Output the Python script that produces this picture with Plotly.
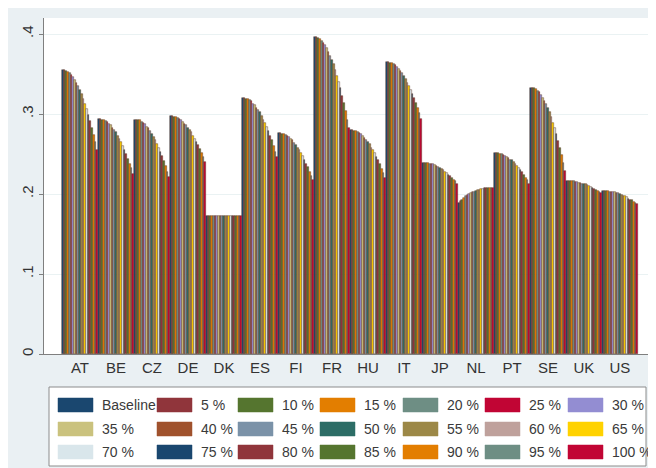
import plotly.graph_objects as go

countries = ["AT", "BE", "CZ", "DE", "DK", "ES", "FI", "FR",
             "HU", "IT", "JP", "NL", "PT", "SE", "UK", "US"]

series_names = ["Baseline", "5 %", "10 %", "15 %", "20 %", "25 %", "30 %",
                "35 %", "40 %", "45 %", "50 %", "55 %", "60 %", "65 %",
                "70 %", "75 %", "80 %", "85 %", "90 %", "95 %", "100 %"]

# Stata s2color palette
colors = ["#1a476f", "#90353b", "#55752f", "#e37e00", "#6e8e84", "#c10534", "#938dd2",
          "#cac27e", "#a0522d", "#7b92a8", "#2d6d66", "#9c8847", "#bfa19c", "#ffd200",
          "#d9e6eb", "#1a476f", "#90353b", "#55752f", "#e37e00", "#6e8e84", "#c10534"]

# one list per country: Baseline, 5 %, ..., 100 %
at = [.355, .355, .354, .353, .351, .349, .346, .343, .339, .335, .330,
      .325, .319, .313, .306, .299, .291, .283, .274, .265, .255]
be = [.294, .294, .293, .293, .291, .290, .288, .286, .283, .280, .277,
      .273, .269, .265, .260, .255, .250, .244, .238, .232, .225]
cz = [.293, .293, .292, .292, .290, .289, .287, .284, .282, .279, .275,
      .271, .267, .263, .258, .253, .247, .241, .235, .228, .221]
de = [.297, .297, .296, .296, .295, .294, .292, .290, .288, .286, .283,
      .280, .277, .273, .269, .265, .261, .256, .251, .246, .240]
dk = [.172, .172, .172, .172, .172, .172, .172, .172, .172, .172, .172,
      .172, .172, .172, .172, .172, .172, .172, .172, .172, .172]
es = [.320, .320, .319, .319, .317, .316, .313, .311, .308, .305, .302,
      .298, .293, .289, .284, .279, .273, .267, .260, .253, .246]
fi = [.276, .276, .275, .275, .274, .272, .271, .269, .267, .264, .261,
      .258, .255, .251, .247, .243, .238, .234, .228, .223, .217]
fr = [.396, .396, .395, .394, .391, .389, .386, .382, .378, .373, .368,
      .362, .355, .348, .340, .332, .323, .314, .304, .293, .282]
hu = [.280, .280, .279, .279, .278, .276, .275, .273, .270, .268, .265,
      .262, .258, .255, .251, .246, .242, .237, .231, .226, .220]
it = [.365, .365, .364, .364, .362, .361, .359, .356, .354, .351, .347,
      .344, .339, .335, .330, .325, .320, .314, .308, .301, .294]
jp = [.239, .239, .239, .239, .238, .237, .237, .236, .235, .234, .233,
      .231, .230, .228, .226, .224, .222, .220, .218, .216, .213]
nl = [.189, .191, .193, .195, .197, .199, .200, .201, .202, .203, .204,
      .205, .205, .206, .206, .207, .207, .207, .208, .208, .208]
pt = [.251, .251, .251, .250, .250, .249, .248, .246, .245, .243, .242,
      .240, .237, .235, .232, .230, .227, .224, .220, .217, .213]
se = [.333, .333, .332, .331, .329, .327, .324, .320, .316, .312, .307,
      .302, .296, .289, .282, .275, .266, .258, .249, .239, .229]
uk = [.216, .216, .216, .216, .216, .215, .215, .214, .214, .213, .212,
      .212, .211, .210, .209, .208, .206, .205, .204, .203, .201]
us = [.204, .204, .204, .204, .203, .203, .202, .202, .201, .201, .200,
      .199, .198, .197, .196, .194, .193, .192, .190, .189, .187]

by_country = [at, be, cz, de, dk, es, fi, fr, hu, it, jp, nl, pt, se, uk, us]

# the page body adds an 8px margin, so the figure is 8px smaller than the window
OFF = 8
W, H = 656 - OFF, 468 - OFF
L, R, T, B = 36, 4, 10, 114
PW, PH = W - L - R, H - T - B


def px(x):
    # window pixel -> paper coordinate
    return (x - OFF - L) / PW


def py(y):
    return (H - B - (y - OFF)) / PH


fig = go.Figure()
for k, name in enumerate(series_names):
    fig.add_trace(go.Bar(
        x=countries, y=[c[k] for c in by_country],
        name=name, marker_color=colors[k],
        marker_line=dict(color="rgba(95,55,35,0.75)", width=0.6),
        showlegend=False,
    ))

# hand-drawn Stata style legend (wide swatches)
shapes = [dict(type="rect", xref="paper", yref="paper",
               x0=px(49), x1=px(646), y0=py(387), y1=py(466),
               fillcolor="white", line=dict(color="#8c8c8c", width=1))]
annotations = []
col_x = [58, 157, 238, 320, 403, 485, 568]
row_y = [405, 429, 452]
for k, name in enumerate(series_names):
    r, c = divmod(k, 7)
    x0, yc = col_x[c], row_y[r]
    shapes.append(dict(type="rect", xref="paper", yref="paper",
                       x0=px(x0), x1=px(x0 + 35), y0=py(yc + 7), y1=py(yc - 7),
                       fillcolor=colors[k], line=dict(color=colors[k], width=0.5)))
    annotations.append(dict(xref="paper", yref="paper", x=px(x0 + 42), y=py(yc),
                            text=name, showarrow=False, xanchor="left", yanchor="middle",
                            font=dict(size=14, color="#3a3a3a")))

fig.update_layout(
    width=W, height=H,
    margin=dict(l=L, r=R, t=T, b=B),
    paper_bgcolor="#eaf0f3",
    plot_bgcolor="white",
    barmode="group", bargap=0, bargroupgap=0,
    font=dict(family="Liberation Sans, Arial, sans-serif", color="#333333"),
    shapes=shapes,
    annotations=annotations,
    xaxis=dict(
        range=[-1.0, 15.89], showline=True, linecolor="#7f7f7f", linewidth=1,
        ticks="", tickfont=dict(size=15), showgrid=False, automargin=False,
    ),
    yaxis=dict(
        range=[0, 0.42], tickvals=[0, .1, .2, .3, .4],
        ticktext=["0", ".1", ".2", ".3", ".4"], tickangle=-90,
        tickfont=dict(size=15), ticks="outside", ticklen=4, tickcolor="#7f7f7f",
        showline=True, linecolor="#7f7f7f", linewidth=1,
        gridcolor="#eaf2f3", zeroline=False, automargin=False,
    ),
)

fig.write_html("out.html")
